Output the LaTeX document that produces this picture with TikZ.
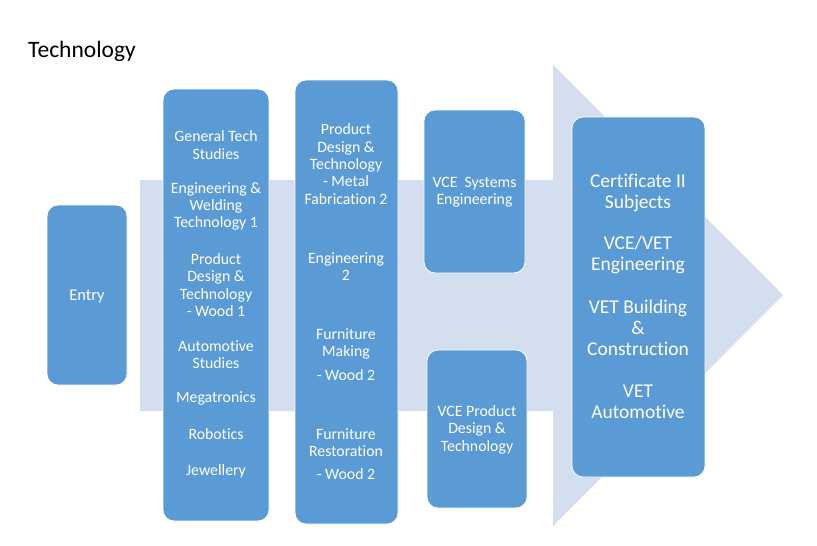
\documentclass[tikz,border=0pt]{standalone}
\usepackage{fontspec}
\setmainfont{Carlito}[Ligatures=NoCommon]
\definecolor{boxblue}{RGB}{91,155,213}
\definecolor{arrowgrey}{RGB}{211,222,238}
\begin{document}
\begin{tikzpicture}[x=1pt,y=-1pt,
  bluebox/.style={draw=white,line width=0.8pt,fill=boxblue,rounded corners=11pt},
  coltext/.style={text=white,align=center,font=\fontsize{15.8}{17.4}\selectfont,inner sep=0pt},
  bigtext/.style={text=white,align=center,font=\fontsize{19.5}{21}\selectfont,inner sep=0pt}]
\useasboundingbox (0,0) rectangle (817,546);
\fill[white] (0,0) rectangle (817,546);
% big arrow
\fill[arrowgrey] (140,180) -- (553,180) -- (553,65) -- (783,295) -- (553,526) -- (553,411) -- (140,411) -- cycle;
% title
\node[anchor=base west,inner sep=0pt,font=\fontsize{23.5}{26}\selectfont] (title) at (28,57) {Technology};
% boxes
\draw[bluebox] (47,205) rectangle (127,385);
\draw[bluebox] (163,89) rectangle (269,521);
\draw[bluebox] (295,80) rectangle (398,524);
\draw[bluebox] (424,110) rectangle (525,273);
\draw[bluebox] (427,350) rectangle (527,508);
\draw[bluebox] (572,117) rectangle (705,477);
% entry
\node[coltext,font=\fontsize{16.5}{18}\selectfont] (entry) at (87,297) {Entry};
% column 1
\node[coltext] (c1a) at (216,145) {General Tech\\Studies};
\node[coltext] (c1b) at (216,206.5) {Engineering \&\\Welding\\Technology 1};
\node[coltext] (c1c) at (216,285) {Product\\Design \&\\Technology\\- Wood 1};
\node[coltext] (c1d) at (216,354.5) {Automotive\\Studies};
\node[coltext] (c1e) at (216,398) {Megatronics};
\node[coltext] (c1f) at (216,434) {Robotics};
\node[coltext] (c1g) at (216,471) {Jewellery};
% column 2
\node[coltext] (c2a) at (346,164) {Product\\Design \&\\Technology\\- Metal\\Fabrication 2};
\node[coltext] (c2b) at (346,266.5) {Engineering\\2};
\node[coltext] (c2c) at (346,354.5) {Furniture\\Making\\[6pt]- Wood 2};
\node[coltext] (c2d) at (346,454) {Furniture\\Restoration\\[5pt]- Wood 2};
% column 3
\node[coltext] (c3a) at (474.5,192) {VCE\ \ Systems\\Engineering};
\node[coltext] (c3b) at (477,429.5) {VCE Product\\Design \&\\Technology};
% final
\node[bigtext] (f1) at (638,192.5) {Certificate II\\Subjects};
\node[bigtext] (f2) at (638,255) {VCE/VET\\Engineering};
\node[bigtext] (f3) at (638,328) {VET Building\\\&\\Construction};
\node[bigtext] (f4) at (638,402) {VET\\Automotive};
\end{tikzpicture}
\end{document}
